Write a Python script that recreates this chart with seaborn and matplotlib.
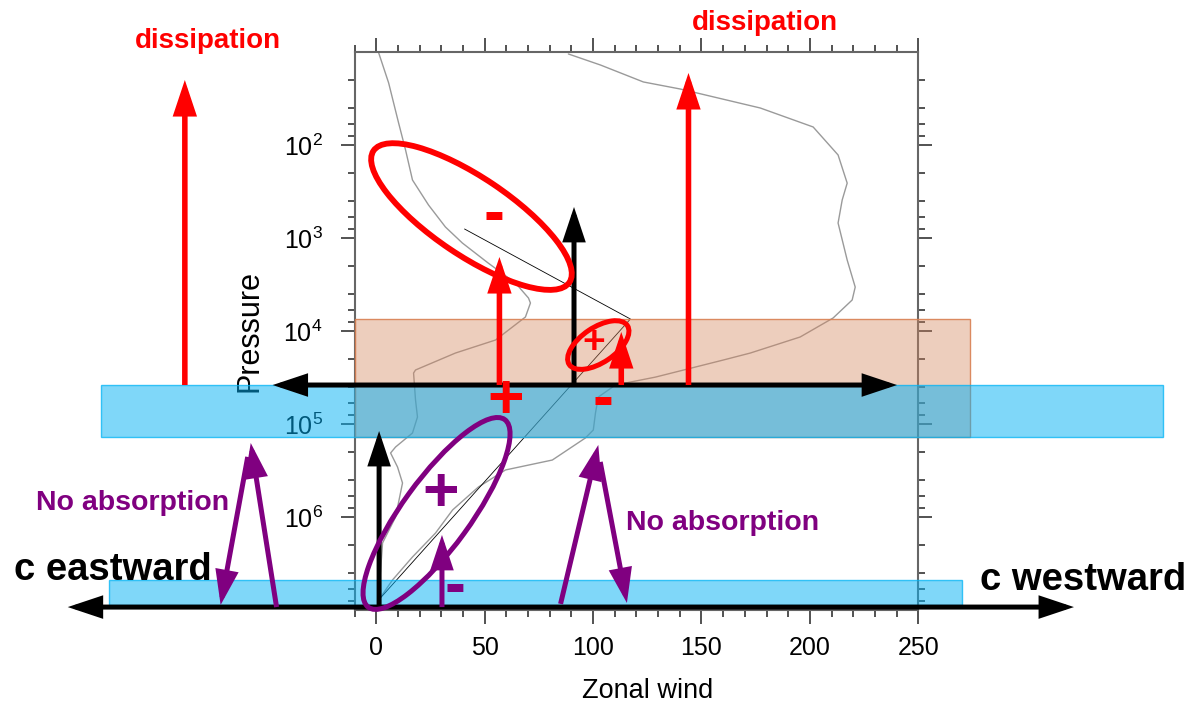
import numpy as np
import pandas as pd
import matplotlib
matplotlib.use("Agg")
import matplotlib.pyplot as plt
import seaborn as sns
from matplotlib.patches import Ellipse, Rectangle
from matplotlib.transforms import ScaledTranslation
from matplotlib.ticker import MultipleLocator, LogLocator, NullFormatter

# ---------------- data (zonal wind in m/s, pressure) ----------------
left_wind = [1.1, 5.7, 10.3, 13.5, 16.7, 24.1, 31.9, 39.7, 51.6, 64.2, 70.2, 71.1, 68.8,
             62.8, 55.0, 36.5, 18.1, 17.2, 18.1, 19.0, 16.7, 8.9, 6.6, 9.8, 12.1, 8.9, 2.9, 1.0]
left_p = [10.2, 21.5, 58, 113, 238, 442, 762, 1132, 1858, 3048, 4420, 5000, 7070,
          9060, 12500, 17260, 26250, 28300, 55200, 84100, 125000, 176700, 205000,
          290000, 430800, 1.0e6, 1.9e6, 7.8e6]

right_wind = [88.6, 103.4, 123.2, 140.2, 177.1, 201.5, 213.0, 217.2, 214.9, 213.0, 217.2,
              220.9, 219.5, 210.7, 195.5, 172.5, 160.1, 128.8, 110.3, 102.4, 101.1, 100.1,
              96.4, 81.2, 59.6, 47.1, 35.2, 27.3, 16.7, 7.5, 1.1]
right_p = [10.5, 13.8, 21, 25, 40, 64, 128, 257, 390, 690, 1726, 3370, 4640, 7250, 11600,
           17260, 20500, 31300, 38100, 51300, 76200, 116000, 141600, 244000, 312000,
           476000, 840000, 1.49e6, 2.69e6, 4.75e6, 7.8e6]

line_wind = [40.7, 117.2, 1.1]
line_p = [800, 7430, 7.8e6]

x_ticks = [0, 50, 100, 150, 200, 250]
y_ticks = [1e2, 1e3, 1e4, 1e5, 1e6]

# diagram annotations (phase speed c, pressure level)
launch_p = 38100          # upper launch level
ground_p = 9.3e6          # lower launch level
red_arrows = [(-88.3, 20), (56.8, 1600), (113.0, 10250), (144.0, 16.8)]   # (c, p_tip)
black_arrows = [(91.2, launch_p, 464), (1.3, ground_p, 119000)]           # (c, p_tail, p_tip)
purple_arrows = [((30.3, ground_p), (30.3, 1.56e6)),
                 ((-46.0, ground_p), (-57.9, 1.6e5)),
                 ((-59.3, 2.26e5), (-71.8, 8.83e6)),
                 ((85.0, 8.6e6), (102.4, 1.68e5)),
                 ((103.3, 2.56e5), (115.6, 8.4e6))]

# ---------------- figure ----------------
sns.set_style("ticks")
plt.rcParams["font.family"] = ["Liberation Sans", "DejaVu Sans"]
plt.rcParams["mathtext.fontset"] = "custom"
plt.rcParams["mathtext.rm"] = "Liberation Sans"

DPI = 100
fig = plt.figure(figsize=(11.89, 7.02), dpi=DPI)
fig.patch.set_facecolor("white")
ax = fig.add_axes([354.6 / 1189, 1 - 610 / 702, 563.7 / 1189, 558 / 702])
ax.set_facecolor("white")

df_l = pd.DataFrame({"wind": left_wind, "p": left_p})
df_r = pd.DataFrame({"wind": right_wind, "p": right_p})
df_s = pd.DataFrame({"wind": line_wind, "p": line_p})
sns.lineplot(data=df_l, x="wind", y="p", sort=False, estimator=None, color="#9a9a9a", lw=1.0, ax=ax, zorder=2)
sns.lineplot(data=df_r, x="wind", y="p", sort=False, estimator=None, color="#9a9a9a", lw=1.0, ax=ax, zorder=2)
sns.lineplot(data=df_s, x="wind", y="p", sort=False, estimator=None, color="black", lw=0.6, ax=ax, zorder=2)

ax.set_yscale("log")
ax.set_xlim(-10, 250)
ax.set_ylim(1e7, 1e1)
ax.set_xticks(x_ticks)
ax.xaxis.set_minor_locator(MultipleLocator(10))
ax.set_yticks(y_ticks)
ax.yaxis.set_minor_locator(LogLocator(base=10, subs=[2, 4, 6, 8], numticks=20))
ax.yaxis.set_minor_formatter(NullFormatter())
ax.tick_params(which="both", direction="out", top=True, right=True, labeltop=False,
               labelright=False, color="#444444", width=1.3, labelsize=18, labelcolor="black")
ax.tick_params(which="major", length=10, pad=9)
ax.tick_params(axis="y", which="major", pad=13)
ax.tick_params(which="minor", length=5)
for s in ax.spines.values():
    s.set_color("#666666")
    s.set_linewidth(1.5)

ax.set_xlabel("Zonal wind", fontsize=19.5, color="black")
ax.xaxis.label.set_va("baseline")
ax.xaxis.set_label_coords(0.5205, -0.158)
ax.set_ylabel("Pressure", fontsize=22, color="black")
ax.yaxis.label.set(va="center", ha="center", rotation_mode="default")
ax.yaxis.set_label_coords(-0.1856, 0.5)

# ---------------- bands ----------------
def band(x0, x1, p0, p1, fc, ec, z):
    r = Rectangle((x0, p0), x1 - x0, p1 - p0, facecolor=fc, edgecolor=ec, lw=1.0,
                  clip_on=False, zorder=z)
    ax.add_patch(r)

band(-10, 273.9, 7430, 138000, (0.83, 0.52, 0.36, 0.40), (0.85, 0.50, 0.32, 0.9), 3)
band(-127.0, 362.8, launch_p, 138000, (0.004, 0.69, 0.96, 0.5), (0.0, 0.70, 0.96, 0.75), 3.1)
band(-123.4, 270.1, 4.75e6, 8.83e6, (0.004, 0.69, 0.96, 0.5), (0.0, 0.70, 0.96, 0.75), 3.1)

# ---------------- arrows ----------------
def arrow(tail, tip, color, lw, style="-|>", z=6):
    ax.annotate("", xy=tip, xytext=tail, xycoords="data", textcoords="data",
                annotation_clip=False, zorder=z,
                arrowprops=dict(arrowstyle=f"{style},head_length=18,head_width=6",
                                mutation_scale=1, lw=lw, color=color,
                                shrinkA=0, shrinkB=0, joinstyle="miter", capstyle="butt"))

arrow((-47.8, launch_p), (240.2, launch_p), "black", 3.6, "<|-|>")
arrow((-142.3, ground_p), (321.8, ground_p), "black", 3.6, "<|-|>")
for c, ptip in red_arrows:
    arrow((c, launch_p), (c, ptip), "#ff0000", 4.0)
for c, ptail, ptip in black_arrows:
    arrow((c, ptail), (c, ptip), "black", 3.6)
for tail, tip in purple_arrows:
    arrow(tail, tip, "#800080", 3.6)

# ---------------- ellipses ----------------
def ellipse(c, p, w_px, h_px, angle, color, lw):
    trans = fig.dpi_scale_trans + ScaledTranslation(c, p, ax.transData)
    e = Ellipse((0, 0), w_px / DPI, h_px / DPI, angle=angle, transform=trans,
                fill=False, edgecolor=color, lw=lw, clip_on=False, zorder=7)
    ax.add_artist(e)

ellipse(43.9, 588, 236, 78, -33.9, "#ff0000", 4.2)
ellipse(102.4, 14160, 70, 35, 33.9, "#ff0000", 3.6)
ellipse(27.8, 9.16e5, 232, 68, 54, "#800080", 3.6)

# ---------------- signs & labels ----------------
def sign(c, p, s, color, size):
    ax.text(c, p, s, color=color, fontsize=size, fontweight="bold", ha="center",
            va="center", clip_on=False, zorder=8)

sign(59.8, 57900, "+", "#ff0000", 45)
sign(104.5, 57900, "-", "#ff0000", 45)
sign(54.3, 594, "-", "#ff0000", 45)
sign(100.4, 13300, "+", "#ff0000", 28)
sign(29.9, 5.73e5, "+", "#800080", 45)
sign(36.5, 5.94e6, "-", "#800080", 45)

def label(c, p, s, color, size):
    ax.text(c, p, s, color=color, fontsize=size, fontweight="bold", ha="center",
            va="baseline", clip_on=False, zorder=8)

label(-77.5, 9.06, "dissipation", "#ff0000", 20)
label(179.1, 5.75, "dissipation", "#ff0000", 20)
label(-112.3, 8.47e5, "No absorption", "#800080", 20.5)
label(159.6, 1.39e6, "No absorption", "#800080", 20.5)
label(-121.5, 4.75e6, "c eastward", "black", 27.5)
label(326.0, 6.1e6, "c westward", "black", 27.5)

fig.savefig("out.png", dpi=DPI, facecolor="white")
